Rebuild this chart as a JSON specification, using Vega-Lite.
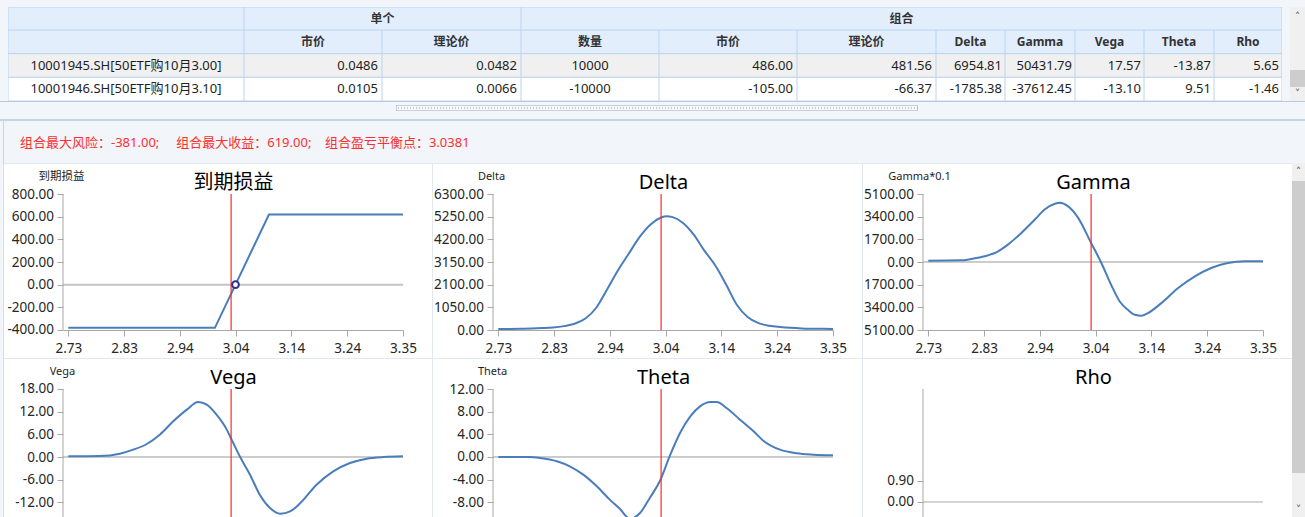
{
"$schema": "https://vega.github.io/schema/vega-lite/v6.json",
"padding": 0,
"background": "#ffffff",
"spacing": 0,
"config": {
 "view": {"stroke": null},
 "concat": {"spacing": 0},
 "font": "Noto Sans, Noto Sans CJK SC",
 "locale": {"number": {"decimal": ".", "thousands": ",", "grouping": [3], "currency": ["$", ""], "minus": "-"}},
 "axis": {"labelFlush": false, "labelOverlap": false, "grid": false, "domainColor": "#a8a8a8", "tickColor": "#a8a8a8", "tickSize": 6, "labelFontSize": 13.5, "labelColor": "#262626", "labelPadding": 3.5, "labelFont": "Noto Sans, Noto Sans CJK SC", "titleFont": "Noto Sans, Noto Sans CJK SC", "titleFontWeight": "normal"}
},
"datasets": {
 "table": [
  {"col":"c0","row":"h","text":""},{"col":"c0","row":"r1","text":"10001945.SH[50ETF购10月3.00]"},{"col":"c0","row":"r2","text":"10001946.SH[50ETF购10月3.10]"},
  {"col":"c1","row":"h","text":"市价"},{"col":"c1","row":"r1","text":"0.0486"},{"col":"c1","row":"r2","text":"0.0105"},
  {"col":"c2","row":"h","text":"理论价"},{"col":"c2","row":"r1","text":"0.0482"},{"col":"c2","row":"r2","text":"0.0066"},
  {"col":"c3","row":"h","text":"数量"},{"col":"c3","row":"r1","text":"10000"},{"col":"c3","row":"r2","text":"-10000"},
  {"col":"c4","row":"h","text":"市价"},{"col":"c4","row":"r1","text":"486.00"},{"col":"c4","row":"r2","text":"-105.00"},
  {"col":"c5","row":"h","text":"理论价"},{"col":"c5","row":"r1","text":"481.56"},{"col":"c5","row":"r2","text":"-66.37"},
  {"col":"c6","row":"h","text":"Delta"},{"col":"c6","row":"r1","text":"6954.81"},{"col":"c6","row":"r2","text":"-1785.38"},
  {"col":"c7","row":"h","text":"Gamma"},{"col":"c7","row":"r1","text":"50431.79"},{"col":"c7","row":"r2","text":"-37612.45"},
  {"col":"c8","row":"h","text":"Vega"},{"col":"c8","row":"r1","text":"17.57"},{"col":"c8","row":"r2","text":"-13.10"},
  {"col":"c9","row":"h","text":"Theta"},{"col":"c9","row":"r1","text":"-13.87"},{"col":"c9","row":"r2","text":"9.51"},
  {"col":"c10","row":"h","text":"Rho"},{"col":"c10","row":"r1","text":"5.65"},{"col":"c10","row":"r2","text":"-1.46"}
 ],
 "groups": [{"id":"single","label":"单个"},{"id":"combo","label":"组合"}],
 "info": [{"t":"组合最大风险：-381.00;\u00a0\u00a0\u00a0\u00a0\u00a0组合最大收益：619.00;\u00a0\u00a0\u00a0\u00a0组合盈亏平衡点：3.0381"}],
 "arrows": [{"id":"up","t":"˄"},{"id":"down","t":"˅"}],
 "spot": [{"spot": 3.03}],
 "breakeven": [{"s": 3.0381, "v": 0}],
 "curves": [
  {"g":"payoff","s":2.7288,"v":-381},{"g":"payoff","s":3.0,"v":-381},{"g":"payoff","s":3.1,"v":619},{"g":"payoff","s":3.348,"v":619},
  {"g":"delta","s":2.7288,"v":47},{"g":"delta","s":2.75,"v":52},{"g":"delta","s":2.77,"v":60},{"g":"delta","s":2.79,"v":70},{"g":"delta","s":2.81,"v":90},{"g":"delta","s":2.83,"v":120},{"g":"delta","s":2.85,"v":180},{"g":"delta","s":2.87,"v":290},{"g":"delta","s":2.89,"v":530},{"g":"delta","s":2.91,"v":1030},{"g":"delta","s":2.93,"v":1880},{"g":"delta","s":2.95,"v":2760},{"g":"delta","s":2.97,"v":3530},{"g":"delta","s":2.99,"v":4300},{"g":"delta","s":3.01,"v":4880},{"g":"delta","s":3.03,"v":5210},{"g":"delta","s":3.04,"v":5270},{"g":"delta","s":3.05,"v":5240},{"g":"delta","s":3.07,"v":4970},{"g":"delta","s":3.09,"v":4430},{"g":"delta","s":3.11,"v":3680},{"g":"delta","s":3.13,"v":3000},{"g":"delta","s":3.15,"v":2120},{"g":"delta","s":3.17,"v":1170},{"g":"delta","s":3.19,"v":600},{"g":"delta","s":3.21,"v":320},{"g":"delta","s":3.23,"v":200},{"g":"delta","s":3.25,"v":140},{"g":"delta","s":3.27,"v":100},{"g":"delta","s":3.29,"v":75},{"g":"delta","s":3.31,"v":62},{"g":"delta","s":3.33,"v":54},{"g":"delta","s":3.348,"v":48},
  {"g":"gamma","s":2.7288,"v":100},{"g":"gamma","s":2.79,"v":125},{"g":"gamma","s":2.808,"v":225},{"g":"gamma","s":2.833,"v":426},{"g":"gamma","s":2.858,"v":802},{"g":"gamma","s":2.876,"v":1304},{"g":"gamma","s":2.901,"v":2181},{"g":"gamma","s":2.926,"v":3184},{"g":"gamma","s":2.944,"v":3936},{"g":"gamma","s":2.963,"v":4363},{"g":"gamma","s":2.972,"v":4438},{"g":"gamma","s":2.987,"v":4187},{"g":"gamma","s":3.006,"v":3310},{"g":"gamma","s":3.03,"v":1429},{"g":"gamma","s":3.049,"v":-75},{"g":"gamma","s":3.067,"v":-1705},{"g":"gamma","s":3.083,"v":-2959},{"g":"gamma","s":3.098,"v":-3585},{"g":"gamma","s":3.111,"v":-3962},{"g":"gamma","s":3.123,"v":-4037},{"g":"gamma","s":3.135,"v":-3836},{"g":"gamma","s":3.16,"v":-3084},{"g":"gamma","s":3.191,"v":-1956},{"g":"gamma","s":3.222,"v":-1078},{"g":"gamma","s":3.252,"v":-451},{"g":"gamma","s":3.283,"v":-75},{"g":"gamma","s":3.314,"v":50},{"g":"gamma","s":3.348,"v":50},
  {"g":"vega","s":2.7288,"v":0.18},{"g":"vega","s":2.787,"v":0.26},{"g":"vega","s":2.824,"v":0.88},{"g":"vega","s":2.849,"v":1.94},{"g":"vega","s":2.874,"v":3.44},{"g":"vega","s":2.898,"v":5.91},{"g":"vega","s":2.923,"v":9.44},{"g":"vega","s":2.948,"v":12.53},{"g":"vega","s":2.969,"v":14.56},{"g":"vega","s":2.985,"v":13.85},{"g":"vega","s":3.003,"v":11.2},{"g":"vega","s":3.022,"v":7.24},{"g":"vega","s":3.031,"v":4.59},{"g":"vega","s":3.046,"v":0.18},{"g":"vega","s":3.065,"v":-4.68},{"g":"vega","s":3.083,"v":-9.97},{"g":"vega","s":3.102,"v":-13.5},{"g":"vega","s":3.121,"v":-15.0},{"g":"vega","s":3.139,"v":-14.4},{"g":"vega","s":3.158,"v":-12.2},{"g":"vega","s":3.188,"v":-7.32},{"g":"vega","s":3.219,"v":-3.79},{"g":"vega","s":3.25,"v":-1.59},{"g":"vega","s":3.281,"v":-0.44},{"g":"vega","s":3.312,"v":0},{"g":"vega","s":3.348,"v":0.18},
  {"g":"theta","s":2.7288,"v":0},{"g":"theta","s":2.787,"v":0},{"g":"theta","s":2.806,"v":-0.18},{"g":"theta","s":2.837,"v":-0.76},{"g":"theta","s":2.861,"v":-1.65},{"g":"theta","s":2.886,"v":-3.12},{"g":"theta","s":2.911,"v":-5.18},{"g":"theta","s":2.935,"v":-7.53},{"g":"theta","s":2.954,"v":-9.2},{"g":"theta","s":2.972,"v":-10.9},{"g":"theta","s":2.991,"v":-9.9},{"g":"theta","s":3.009,"v":-7.24},{"g":"theta","s":3.028,"v":-4.2},{"g":"theta","s":3.047,"v":0.41},{"g":"theta","s":3.065,"v":4.24},{"g":"theta","s":3.084,"v":7.18},{"g":"theta","s":3.102,"v":8.94},{"g":"theta","s":3.121,"v":9.71},{"g":"theta","s":3.133,"v":9.71},{"g":"theta","s":3.151,"v":8.65},{"g":"theta","s":3.176,"v":6.59},{"g":"theta","s":3.201,"v":4.53},{"g":"theta","s":3.219,"v":2.88},{"g":"theta","s":3.25,"v":1.29},{"g":"theta","s":3.281,"v":0.65},{"g":"theta","s":3.312,"v":0.41},{"g":"theta","s":3.348,"v":0.29}
 ]
},
"vconcat": [
 {"data":{"values":[{}]},"mark":{"type":"rect","fill":"#f2f5f9"},"width":1305,"height":7},
 {"hconcat":[
  {"data":{"values":[{}]},"mark":{"type":"rect","fill":"#f2f5f9"},"width":8,"height":94},
  {"vconcat":[
   {"bounds":"flush","hconcat":[
    {"data":{"values":[{}]},"mark":{"type":"rect","fill":"#e3eefd","stroke":"#bcd3ef","strokeWidth":1,"clip":true},"width":236,"height":23},
    {"width":277,"height":23,"data":{"name":"groups"},"transform":[{"filter":"datum.id === 'single'"}],"layer":[{"mark":{"type":"rect","fill":"#e3eefd","stroke":"#bcd3ef","strokeWidth":1,"clip":true}},{"mark":{"type":"text","fontSize":12,"fontWeight":"bold","color":"#333333"},"encoding":{"text":{"field":"label","type":"nominal"}}}]},
    {"width":761,"height":23,"data":{"name":"groups"},"transform":[{"filter":"datum.id === 'combo'"}],"layer":[{"mark":{"type":"rect","fill":"#e3eefd","stroke":"#bcd3ef","strokeWidth":1,"clip":true}},{"mark":{"type":"text","fontSize":12,"fontWeight":"bold","color":"#333333"},"encoding":{"text":{"field":"label","type":"nominal"}}}]}
   ]},
   {"bounds":"flush","hconcat":[
    {"width":236,"height":71,"data":{"name":"table"},"transform":[{"filter":"datum.col === 'c0'"}],"encoding":{"y":{"field":"row","type":"nominal","scale":{"type":"band","domain":["h","r1","r2"],"paddingInner":0,"paddingOuter":0},"axis":null}},"layer":[
     {"mark":{"type":"rect","stroke":"#bcd3ef","strokeWidth":1,"clip":true},"encoding":{"fill":{"field":"row","type":"nominal","scale":{"domain":["h","r1","r2"],"range":["#e3eefd","#f0f0f0","#ffffff"]},"legend":null}}},
     {"transform":[{"filter":"datum.row !== 'h'"}],"mark":{"type":"text","fontSize":13,"color":"#1e1e1e"},"encoding":{"text":{"field":"text","type":"nominal"}}}]},
    {"width":138,"height":71,"data":{"name":"table"},"transform":[{"filter":"datum.col === 'c1'"}],"encoding":{"y":{"field":"row","type":"nominal","scale":{"type":"band","domain":["h","r1","r2"],"paddingInner":0,"paddingOuter":0},"axis":null}},"layer":[
     {"mark":{"type":"rect","stroke":"#bcd3ef","strokeWidth":1,"clip":true},"encoding":{"fill":{"field":"row","type":"nominal","scale":{"domain":["h","r1","r2"],"range":["#e3eefd","#f0f0f0","#ffffff"]},"legend":null}}},
     {"transform":[{"filter":"datum.row === 'h'"}],"mark":{"type":"text","fontSize":12,"fontWeight":"bold","color":"#333333"},"encoding":{"text":{"field":"text","type":"nominal"}}},
     {"transform":[{"filter":"datum.row !== 'h'"}],"mark":{"type":"text","fontSize":13,"color":"#1e1e1e","align":"right","dx":-4},"encoding":{"text":{"field":"text","type":"nominal"},"x":{"value":"width"}}}]},
    {"width":139,"height":71,"data":{"name":"table"},"transform":[{"filter":"datum.col === 'c2'"}],"encoding":{"y":{"field":"row","type":"nominal","scale":{"type":"band","domain":["h","r1","r2"],"paddingInner":0,"paddingOuter":0},"axis":null}},"layer":[
     {"mark":{"type":"rect","stroke":"#bcd3ef","strokeWidth":1,"clip":true},"encoding":{"fill":{"field":"row","type":"nominal","scale":{"domain":["h","r1","r2"],"range":["#e3eefd","#f0f0f0","#ffffff"]},"legend":null}}},
     {"transform":[{"filter":"datum.row === 'h'"}],"mark":{"type":"text","fontSize":12,"fontWeight":"bold","color":"#333333"},"encoding":{"text":{"field":"text","type":"nominal"}}},
     {"transform":[{"filter":"datum.row !== 'h'"}],"mark":{"type":"text","fontSize":13,"color":"#1e1e1e","align":"right","dx":-4},"encoding":{"text":{"field":"text","type":"nominal"},"x":{"value":"width"}}}]},
    {"width":138,"height":71,"data":{"name":"table"},"transform":[{"filter":"datum.col === 'c3'"}],"encoding":{"y":{"field":"row","type":"nominal","scale":{"type":"band","domain":["h","r1","r2"],"paddingInner":0,"paddingOuter":0},"axis":null}},"layer":[
     {"mark":{"type":"rect","stroke":"#bcd3ef","strokeWidth":1,"clip":true},"encoding":{"fill":{"field":"row","type":"nominal","scale":{"domain":["h","r1","r2"],"range":["#e3eefd","#f0f0f0","#ffffff"]},"legend":null}}},
     {"transform":[{"filter":"datum.row === 'h'"}],"mark":{"type":"text","fontSize":12,"fontWeight":"bold","color":"#333333"},"encoding":{"text":{"field":"text","type":"nominal"}}},
     {"transform":[{"filter":"datum.row !== 'h'"}],"mark":{"type":"text","fontSize":13,"color":"#1e1e1e"},"encoding":{"text":{"field":"text","type":"nominal"}}}]},
    {"width":138,"height":71,"data":{"name":"table"},"transform":[{"filter":"datum.col === 'c4'"}],"encoding":{"y":{"field":"row","type":"nominal","scale":{"type":"band","domain":["h","r1","r2"],"paddingInner":0,"paddingOuter":0},"axis":null}},"layer":[
     {"mark":{"type":"rect","stroke":"#bcd3ef","strokeWidth":1,"clip":true},"encoding":{"fill":{"field":"row","type":"nominal","scale":{"domain":["h","r1","r2"],"range":["#e3eefd","#f0f0f0","#ffffff"]},"legend":null}}},
     {"transform":[{"filter":"datum.row === 'h'"}],"mark":{"type":"text","fontSize":12,"fontWeight":"bold","color":"#333333"},"encoding":{"text":{"field":"text","type":"nominal"}}},
     {"transform":[{"filter":"datum.row !== 'h'"}],"mark":{"type":"text","fontSize":13,"color":"#1e1e1e","align":"right","dx":-4},"encoding":{"text":{"field":"text","type":"nominal"},"x":{"value":"width"}}}]},
    {"width":139,"height":71,"data":{"name":"table"},"transform":[{"filter":"datum.col === 'c5'"}],"encoding":{"y":{"field":"row","type":"nominal","scale":{"type":"band","domain":["h","r1","r2"],"paddingInner":0,"paddingOuter":0},"axis":null}},"layer":[
     {"mark":{"type":"rect","stroke":"#bcd3ef","strokeWidth":1,"clip":true},"encoding":{"fill":{"field":"row","type":"nominal","scale":{"domain":["h","r1","r2"],"range":["#e3eefd","#f0f0f0","#ffffff"]},"legend":null}}},
     {"transform":[{"filter":"datum.row === 'h'"}],"mark":{"type":"text","fontSize":12,"fontWeight":"bold","color":"#333333"},"encoding":{"text":{"field":"text","type":"nominal"}}},
     {"transform":[{"filter":"datum.row !== 'h'"}],"mark":{"type":"text","fontSize":13,"color":"#1e1e1e","align":"right","dx":-4},"encoding":{"text":{"field":"text","type":"nominal"},"x":{"value":"width"}}}]},
    {"width":69,"height":71,"data":{"name":"table"},"transform":[{"filter":"datum.col === 'c6'"}],"encoding":{"y":{"field":"row","type":"nominal","scale":{"type":"band","domain":["h","r1","r2"],"paddingInner":0,"paddingOuter":0},"axis":null}},"layer":[
     {"mark":{"type":"rect","stroke":"#bcd3ef","strokeWidth":1,"clip":true},"encoding":{"fill":{"field":"row","type":"nominal","scale":{"domain":["h","r1","r2"],"range":["#e3eefd","#f0f0f0","#ffffff"]},"legend":null}}},
     {"transform":[{"filter":"datum.row === 'h'"}],"mark":{"type":"text","fontSize":12,"fontWeight":"bold","color":"#333333"},"encoding":{"text":{"field":"text","type":"nominal"}}},
     {"transform":[{"filter":"datum.row !== 'h'"}],"mark":{"type":"text","fontSize":13,"color":"#1e1e1e","align":"right","dx":-3},"encoding":{"text":{"field":"text","type":"nominal"},"x":{"value":"width"}}}]},
    {"width":70,"height":71,"data":{"name":"table"},"transform":[{"filter":"datum.col === 'c7'"}],"encoding":{"y":{"field":"row","type":"nominal","scale":{"type":"band","domain":["h","r1","r2"],"paddingInner":0,"paddingOuter":0},"axis":null}},"layer":[
     {"mark":{"type":"rect","stroke":"#bcd3ef","strokeWidth":1,"clip":true},"encoding":{"fill":{"field":"row","type":"nominal","scale":{"domain":["h","r1","r2"],"range":["#e3eefd","#f0f0f0","#ffffff"]},"legend":null}}},
     {"transform":[{"filter":"datum.row === 'h'"}],"mark":{"type":"text","fontSize":12,"fontWeight":"bold","color":"#333333"},"encoding":{"text":{"field":"text","type":"nominal"}}},
     {"transform":[{"filter":"datum.row !== 'h'"}],"mark":{"type":"text","fontSize":13,"color":"#1e1e1e","align":"right","dx":-3},"encoding":{"text":{"field":"text","type":"nominal"},"x":{"value":"width"}}}]},
    {"width":69,"height":71,"data":{"name":"table"},"transform":[{"filter":"datum.col === 'c8'"}],"encoding":{"y":{"field":"row","type":"nominal","scale":{"type":"band","domain":["h","r1","r2"],"paddingInner":0,"paddingOuter":0},"axis":null}},"layer":[
     {"mark":{"type":"rect","stroke":"#bcd3ef","strokeWidth":1,"clip":true},"encoding":{"fill":{"field":"row","type":"nominal","scale":{"domain":["h","r1","r2"],"range":["#e3eefd","#f0f0f0","#ffffff"]},"legend":null}}},
     {"transform":[{"filter":"datum.row === 'h'"}],"mark":{"type":"text","fontSize":12,"fontWeight":"bold","color":"#333333"},"encoding":{"text":{"field":"text","type":"nominal"}}},
     {"transform":[{"filter":"datum.row !== 'h'"}],"mark":{"type":"text","fontSize":13,"color":"#1e1e1e","align":"right","dx":-3},"encoding":{"text":{"field":"text","type":"nominal"},"x":{"value":"width"}}}]},
    {"width":70,"height":71,"data":{"name":"table"},"transform":[{"filter":"datum.col === 'c9'"}],"encoding":{"y":{"field":"row","type":"nominal","scale":{"type":"band","domain":["h","r1","r2"],"paddingInner":0,"paddingOuter":0},"axis":null}},"layer":[
     {"mark":{"type":"rect","stroke":"#bcd3ef","strokeWidth":1,"clip":true},"encoding":{"fill":{"field":"row","type":"nominal","scale":{"domain":["h","r1","r2"],"range":["#e3eefd","#f0f0f0","#ffffff"]},"legend":null}}},
     {"transform":[{"filter":"datum.row === 'h'"}],"mark":{"type":"text","fontSize":12,"fontWeight":"bold","color":"#333333"},"encoding":{"text":{"field":"text","type":"nominal"}}},
     {"transform":[{"filter":"datum.row !== 'h'"}],"mark":{"type":"text","fontSize":13,"color":"#1e1e1e","align":"right","dx":-3},"encoding":{"text":{"field":"text","type":"nominal"},"x":{"value":"width"}}}]},
    {"width":68,"height":71,"data":{"name":"table"},"transform":[{"filter":"datum.col === 'c10'"}],"encoding":{"y":{"field":"row","type":"nominal","scale":{"type":"band","domain":["h","r1","r2"],"paddingInner":0,"paddingOuter":0},"axis":null}},"layer":[
     {"mark":{"type":"rect","stroke":"#bcd3ef","strokeWidth":1,"clip":true},"encoding":{"fill":{"field":"row","type":"nominal","scale":{"domain":["h","r1","r2"],"range":["#e3eefd","#f0f0f0","#ffffff"]},"legend":null}}},
     {"transform":[{"filter":"datum.row === 'h'"}],"mark":{"type":"text","fontSize":12,"fontWeight":"bold","color":"#333333"},"encoding":{"text":{"field":"text","type":"nominal"}}},
     {"transform":[{"filter":"datum.row !== 'h'"}],"mark":{"type":"text","fontSize":13,"color":"#1e1e1e","align":"right","dx":-3},"encoding":{"text":{"field":"text","type":"nominal"},"x":{"value":"width"}}}]}
   ]}
  ]},
  {"data":{"values":[{}]},"mark":{"type":"rect","fill":"#f2f5f9"},"width":8,"height":94},
  {"bounds":"flush","vconcat":[
   {"width":15,"height":20,"data":{"name":"arrows"},"transform":[{"filter":"datum.id === 'up'"}],"layer":[{"mark":{"type":"rect","fill":"#f0f0f0"}},{"mark":{"type":"text","font":"DejaVu Sans","fontSize":11,"color":"#606060"},"encoding":{"text":{"field":"t","type":"nominal"}}}]},
   {"data":{"values":[{}]},"mark":{"type":"rect","fill":"#f0f0f0"},"width":15,"height":43},
   {"data":{"values":[{}]},"mark":{"type":"rect","fill":"#cdcdcd"},"width":15,"height":17},
   {"width":15,"height":14,"data":{"name":"arrows"},"transform":[{"filter":"datum.id === 'down'"}],"layer":[{"mark":{"type":"rect","fill":"#f0f0f0"}},{"mark":{"type":"text","font":"DejaVu Sans","fontSize":11,"color":"#606060"},"encoding":{"text":{"field":"t","type":"nominal"}}}]}
  ]}
 ]},
 {"vconcat":[
  {"data":{"values":[{}]},"mark":{"type":"rect","fill":"#b9c9de"},"width":1305,"height":1},
  {"data":{"values":[{}]},"mark":{"type":"rect","fill":"#f2f5f9"},"width":1305,"height":3},
  {"bounds":"flush","hconcat":[
   {"data":{"values":[{}]},"mark":{"type":"rect","fill":"#f2f5f9"},"width":396,"height":6},
   {"width":522,"height":6,"data":{"values":[{}]},"layer":[
    {"mark":{"type":"rect","fill":"#f8f9fb","stroke":"#9ea7b3","strokeWidth":1,"clip":true}},
    {"mark":{"type":"rule","color":"#6aa5e0","strokeDash":[1,2],"clip":true},"encoding":{"y":{"datum":0.5,"type":"quantitative","scale":{"domain":[0,1]},"axis":null}}}
   ]},
   {"data":{"values":[{}]},"mark":{"type":"rect","fill":"#f2f5f9"},"width":387,"height":6}
  ]},
  {"data":{"values":[{}]},"mark":{"type":"rect","fill":"#f2f5f9"},"width":1305,"height":8}
 ]},
 {"data":{"values":[{}]},"mark":{"type":"rect","fill":"#c9d4e2"},"width":1305,"height":2},
 {"hconcat":[
  {"data":{"values":[{}]},"mark":{"type":"rect","fill":"#f2f5f9"},"width":3,"height":42},
  {"data":{"values":[{}]},"mark":{"type":"rect","fill":"#c9d4e2"},"width":1,"height":42},
  {"data":{"values":[{}]},"mark":{"type":"rect","fill":"#f2f5f9"},"width":16,"height":42},
  {"width":1285,"height":42,"data":{"name":"info"},"layer":[
   {"mark":{"type":"rect","fill":"#f2f5f9"}},
   {"mark":{"type":"text","align":"left","color":"#ff2d2d","fontSize":13,"dy":1},"encoding":{"text":{"field":"t","type":"nominal"},"x":{"datum":0,"type":"quantitative","scale":{"domain":[0,1]},"axis":null}}}
  ]}
 ]},
 {"hconcat":[
  {"hconcat":[
   {"data":{"values":[{}]},"mark":{"type":"rect","fill":"#f2f5f9"},"width":3,"height":354},
   {"data":{"values":[{}]},"mark":{"type":"rect","fill":"#d5dde8"},"width":1,"height":354}
  ]},
  {"vconcat":[
   {"data":{"values":[{}]},"mark":{"type":"rect","fill":"#e3e8ef"},"width":1288,"height":1},
   {"bounds":"flush","hconcat":[
    {"data":{"values":[{}]},"mark":{"type":"rect","fill":"transparent"},"width":59,"height":194},
    {"width":340,"height":194,"resolve":{"axis":{"x":"independent","y":"independent"}},"layer":[
     {"data":{"values":[{}]},"mark":{"type":"rule","color":"#c4c4c4","strokeWidth":2},"encoding":{"y":{"datum":0,"type":"quantitative","scale":{"domain":[-647.06,1064.71],"nice":false},"axis":null}}},
     {"data":{"values":[{}]},"mark":{"type":"rule","color":"#a8a8a8","strokeWidth":1},"encoding":{"x":{"datum":2.719,"type":"quantitative","scale":{"domain":[2.719,3.348],"nice":false,"zero":false},"axis":null},"y":{"datum":800,"type":"quantitative","scale":{"domain":[-647.06,1064.71],"nice":false},"axis":null},"y2":{"datum":-400}}},
     {"data":{"name":"curves"},"transform":[{"filter":"datum.g === 'payoff'"}],"mark":{"type":"line","color":"#4a7dbb","strokeWidth":2,"clip":true},"encoding":{
      "x":{"field":"s","type":"quantitative","scale":{"domain":[2.719,3.348],"nice":false,"zero":false},"axis":{"values":[2.7288,2.832,2.9352,3.0384,3.1416,3.2448,3.348],"format":".2f","title":null,"labelPadding":5,"offset":-28}},
      "y":{"field":"v","type":"quantitative","scale":{"domain":[-647.06,1064.71],"nice":false},"axis":{"values":[-400,-200,0,200,400,600,800],"format":".2f","domain":false,"title":"到期损益","titleAngle":0,"titleX":-2,"titleY":12,"titleAlign":"center","titleBaseline":"middle","titleFontSize":11.5,"titleColor":"#1e1e1e"}}}},
     {"data":{"name":"spot"},"mark":{"type":"rule","color":"#ff2a2a","strokeWidth":1.2},"encoding":{"x":{"field":"spot","type":"quantitative","scale":{"domain":[2.719,3.348],"nice":false,"zero":false},"axis":{"orient":"top","offset":-30,"title":"到期损益","domain":false,"ticks":false,"labels":false,"titleFontSize":20,"titleColor":"#000000","titlePadding":2}},"y":{"datum":800,"type":"quantitative","scale":{"domain":[-647.06,1064.71],"nice":false},"axis":null},"y2":{"datum":-400}}},
     {"data":{"name":"breakeven"},"mark":{"type":"point","shape":"circle","filled":true,"fill":"#ffffff","stroke":"#2e3192","strokeWidth":2,"size":45,"opacity":1},"encoding":{"x":{"field":"s","type":"quantitative","scale":{"domain":[2.719,3.348],"nice":false,"zero":false},"axis":null},"y":{"field":"v","type":"quantitative","scale":{"domain":[-647.06,1064.71],"nice":false},"axis":null}}}
    ]},
    {"data":{"values":[{}]},"mark":{"type":"rect","fill":"transparent"},"width":29,"height":194},
    {"data":{"values":[{}]},"mark":{"type":"rect","fill":"#e3e8ef"},"width":1,"height":194},
    {"data":{"values":[{}]},"mark":{"type":"rect","fill":"transparent"},"width":60,"height":194},
    {"width":340,"height":194,"resolve":{"axis":{"x":"independent","y":"independent"}},"layer":[
     {"data":{"values":[{}]},"mark":{"type":"rule","color":"#a8a8a8","strokeWidth":1},"encoding":{"x":{"datum":2.719,"type":"quantitative","scale":{"domain":[2.719,3.348],"nice":false,"zero":false},"axis":null},"y":{"datum":6300,"type":"quantitative","scale":{"domain":[-1297.06,7689.71],"nice":false},"axis":null},"y2":{"datum":0}}},
     {"data":{"name":"curves"},"transform":[{"filter":"datum.g === 'delta'"}],"mark":{"type":"line","color":"#4a7dbb","strokeWidth":2,"clip":true,"interpolate":"monotone"},"encoding":{
      "x":{"field":"s","type":"quantitative","scale":{"domain":[2.719,3.348],"nice":false,"zero":false},"axis":{"values":[2.7288,2.832,2.9352,3.0384,3.1416,3.2448,3.348],"format":".2f","title":null,"labelPadding":5,"offset":-28}},
      "y":{"field":"v","type":"quantitative","scale":{"domain":[-1297.06,7689.71],"nice":false},"axis":{"values":[0,1050,2100,3150,4200,5250,6300],"format":".2f","domain":false,"title":"Delta","titleAngle":0,"titleX":-2,"titleY":12,"titleAlign":"center","titleBaseline":"middle","titleFontSize":11,"titleColor":"#1e1e1e"}}}},
     {"data":{"name":"spot"},"mark":{"type":"rule","color":"#ff2a2a","strokeWidth":1.2},"encoding":{"x":{"field":"spot","type":"quantitative","scale":{"domain":[2.719,3.348],"nice":false,"zero":false},"axis":{"orient":"top","offset":-30,"title":"Delta","domain":false,"ticks":false,"labels":false,"titleFontSize":20,"titleColor":"#000000","titlePadding":2}},"y":{"datum":6300,"type":"quantitative","scale":{"domain":[-1297.06,7689.71],"nice":false},"axis":null},"y2":{"datum":0}}}
    ]},
    {"data":{"values":[{}]},"mark":{"type":"rect","fill":"transparent"},"width":29,"height":194},
    {"data":{"values":[{}]},"mark":{"type":"rect","fill":"#e3e8ef"},"width":1,"height":194},
    {"data":{"values":[{}]},"mark":{"type":"rect","fill":"transparent"},"width":60,"height":194},
    {"width":340,"height":194,"resolve":{"axis":{"x":"independent","y":"independent"}},"layer":[
     {"data":{"values":[{}]},"mark":{"type":"rule","color":"#999999","strokeWidth":1},"encoding":{"x":{"datum":2.719,"type":"quantitative","scale":{"domain":[2.719,3.348],"nice":false,"zero":false},"axis":null},"x2":{"datum":3.348},"y":{"datum":0,"type":"quantitative","scale":{"domain":[-7200,7350],"nice":false},"axis":null}}},
     {"data":{"values":[{}]},"mark":{"type":"rule","color":"#a8a8a8","strokeWidth":1},"encoding":{"x":{"datum":2.719,"type":"quantitative","scale":{"domain":[2.719,3.348],"nice":false,"zero":false},"axis":null},"y":{"datum":5100,"type":"quantitative","scale":{"domain":[-7200,7350],"nice":false},"axis":null},"y2":{"datum":-5100}}},
     {"data":{"name":"curves"},"transform":[{"filter":"datum.g === 'gamma'"}],"mark":{"type":"line","color":"#4a7dbb","strokeWidth":2,"clip":true,"interpolate":"monotone"},"encoding":{
      "x":{"field":"s","type":"quantitative","scale":{"domain":[2.719,3.348],"nice":false,"zero":false},"axis":{"values":[2.7288,2.832,2.9352,3.0384,3.1416,3.2448,3.348],"format":".2f","title":null,"labelPadding":5,"offset":-28}},
      "y":{"field":"v","type":"quantitative","scale":{"domain":[-7200,7350],"nice":false},"axis":{"values":[-5100,-3400,-1700,0,1700,3400,5100],"labelExpr":"format(abs(datum.value), '.2f')","domain":false,"title":"Gamma*0.1","titleAngle":0,"titleX":-4,"titleY":12,"titleAlign":"center","titleBaseline":"middle","titleFontSize":11,"titleColor":"#1e1e1e"}}}},
     {"data":{"name":"spot"},"mark":{"type":"rule","color":"#ff2a2a","strokeWidth":1.2},"encoding":{"x":{"field":"spot","type":"quantitative","scale":{"domain":[2.719,3.348],"nice":false,"zero":false},"axis":{"orient":"top","offset":-30,"title":"Gamma","domain":false,"ticks":false,"labels":false,"titleFontSize":20,"titleColor":"#000000","titlePadding":2}},"y":{"datum":5100,"type":"quantitative","scale":{"domain":[-7200,7350],"nice":false},"axis":null},"y2":{"datum":-5100}}}
    ]},
    {"data":{"values":[{}]},"mark":{"type":"rect","fill":"transparent"},"width":29,"height":194}
   ]},
   {"data":{"values":[{}]},"mark":{"type":"rect","fill":"#e3e8ef"},"width":1288,"height":1},
   {"bounds":"flush","hconcat":[
    {"data":{"values":[{}]},"mark":{"type":"rect","fill":"transparent"},"width":59,"height":158},
    {"width":340,"height":158,"resolve":{"axis":{"x":"independent","y":"independent"}},"layer":[
     {"data":{"values":[{}]},"mark":{"type":"rule","color":"#999999","strokeWidth":1},"encoding":{"x":{"datum":2.719,"type":"quantitative","scale":{"domain":[2.719,3.348],"nice":false,"zero":false},"axis":null},"x2":{"datum":3.348},"y":{"datum":0,"type":"quantitative","scale":{"domain":[-15.88,25.94],"nice":false},"axis":null}}},
     {"data":{"values":[{}]},"mark":{"type":"rule","color":"#a8a8a8","strokeWidth":1},"encoding":{"x":{"datum":2.719,"type":"quantitative","scale":{"domain":[2.719,3.348],"nice":false,"zero":false},"axis":null},"y":{"datum":18,"type":"quantitative","scale":{"domain":[-15.88,25.94],"nice":false},"axis":null},"y2":{"datum":-15.88}}},
     {"data":{"name":"curves"},"transform":[{"filter":"datum.g === 'vega'"}],"mark":{"type":"line","color":"#4a7dbb","strokeWidth":2,"clip":true,"interpolate":"monotone"},"encoding":{
      "x":{"field":"s","type":"quantitative","scale":{"domain":[2.719,3.348],"nice":false,"zero":false},"axis":null},
      "y":{"field":"v","type":"quantitative","scale":{"domain":[-15.88,25.94],"nice":false},"axis":{"values":[-12,-6,0,6,12,18],"format":".2f","domain":false,"title":"Vega","titleAngle":0,"titleX":-1,"titleY":12,"titleAlign":"center","titleBaseline":"middle","titleFontSize":11,"titleColor":"#1e1e1e"}}}},
     {"data":{"name":"spot"},"mark":{"type":"rule","color":"#ff2a2a","strokeWidth":1.2},"encoding":{"x":{"field":"spot","type":"quantitative","scale":{"domain":[2.719,3.348],"nice":false,"zero":false},"axis":{"orient":"top","offset":-30,"title":"Vega","domain":false,"ticks":false,"labels":false,"titleFontSize":20,"titleColor":"#000000","titlePadding":2}},"y":{"datum":18,"type":"quantitative","scale":{"domain":[-15.88,25.94],"nice":false},"axis":null},"y2":{"datum":-15.88}}}
    ]},
    {"data":{"values":[{}]},"mark":{"type":"rect","fill":"transparent"},"width":29,"height":158},
    {"data":{"values":[{}]},"mark":{"type":"rect","fill":"#e3e8ef"},"width":1,"height":158},
    {"data":{"values":[{}]},"mark":{"type":"rect","fill":"transparent"},"width":60,"height":158},
    {"width":340,"height":158,"resolve":{"axis":{"x":"independent","y":"independent"}},"layer":[
     {"data":{"values":[{}]},"mark":{"type":"rule","color":"#999999","strokeWidth":1},"encoding":{"x":{"datum":2.719,"type":"quantitative","scale":{"domain":[2.719,3.348],"nice":false,"zero":false},"axis":null},"x2":{"datum":3.348},"y":{"datum":0,"type":"quantitative","scale":{"domain":[-10.6,17.3],"nice":false},"axis":null}}},
     {"data":{"values":[{}]},"mark":{"type":"rule","color":"#a8a8a8","strokeWidth":1},"encoding":{"x":{"datum":2.719,"type":"quantitative","scale":{"domain":[2.719,3.348],"nice":false,"zero":false},"axis":null},"y":{"datum":12,"type":"quantitative","scale":{"domain":[-10.6,17.3],"nice":false},"axis":null},"y2":{"datum":-10.6}}},
     {"data":{"name":"curves"},"transform":[{"filter":"datum.g === 'theta'"}],"mark":{"type":"line","color":"#4a7dbb","strokeWidth":2,"clip":true,"interpolate":"monotone"},"encoding":{
      "x":{"field":"s","type":"quantitative","scale":{"domain":[2.719,3.348],"nice":false,"zero":false},"axis":null},
      "y":{"field":"v","type":"quantitative","scale":{"domain":[-10.6,17.3],"nice":false},"axis":{"values":[-8,-4,0,4,8,12],"format":".2f","domain":false,"title":"Theta","titleAngle":0,"titleX":-1,"titleY":12,"titleAlign":"center","titleBaseline":"middle","titleFontSize":11,"titleColor":"#1e1e1e"}}}},
     {"data":{"name":"spot"},"mark":{"type":"rule","color":"#ff2a2a","strokeWidth":1.2},"encoding":{"x":{"field":"spot","type":"quantitative","scale":{"domain":[2.719,3.348],"nice":false,"zero":false},"axis":{"orient":"top","offset":-30,"title":"Theta","domain":false,"ticks":false,"labels":false,"titleFontSize":20,"titleColor":"#000000","titlePadding":2}},"y":{"datum":12,"type":"quantitative","scale":{"domain":[-10.6,17.3],"nice":false},"axis":null},"y2":{"datum":-10.6}}}
    ]},
    {"data":{"values":[{}]},"mark":{"type":"rect","fill":"transparent"},"width":29,"height":158},
    {"data":{"values":[{}]},"mark":{"type":"rect","fill":"#e3e8ef"},"width":1,"height":158},
    {"data":{"values":[{}]},"mark":{"type":"rect","fill":"transparent"},"width":60,"height":158},
    {"width":340,"height":158,"resolve":{"axis":{"x":"independent","y":"independent"}},"layer":[
     {"data":{"values":[{}]},"mark":{"type":"rule","color":"#a8a8a8","strokeWidth":1},"encoding":{"x":{"datum":2.719,"type":"quantitative","scale":{"domain":[2.719,3.348],"nice":false,"zero":false},"axis":null},"y":{"datum":4.774,"type":"quantitative","scale":{"domain":[-0.634,6.0415],"nice":false},"axis":null},"y2":{"datum":-0.634}}},
     {"data":{"values":[{}]},"mark":{"type":"rule","color":"#a8a8a8","strokeWidth":1},"encoding":{
      "x":{"datum":2.719,"type":"quantitative","scale":{"domain":[2.719,3.348],"nice":false,"zero":false},"axis":{"orient":"top","offset":-30,"title":"Rho","domain":false,"ticks":false,"labels":false,"titleFontSize":20,"titleColor":"#000000","titlePadding":2}},
      "x2":{"datum":3.348},
      "y":{"datum":0,"type":"quantitative","scale":{"domain":[-0.634,6.0415],"nice":false},"axis":{"values":[0,0.9],"format":".2f","domain":false,"title":null}}}}
    ]},
    {"data":{"values":[{}]},"mark":{"type":"rect","fill":"transparent"},"width":29,"height":158}
   ]}
  ]},
  {"bounds":"flush","vconcat":[
   {"width":13,"height":18,"data":{"name":"arrows"},"transform":[{"filter":"datum.id === 'up'"}],"layer":[{"mark":{"type":"rect","fill":"#f0f0f0"}},{"mark":{"type":"text","font":"DejaVu Sans","fontSize":11,"color":"#606060"},"encoding":{"text":{"field":"t","type":"nominal"}}}]},
   {"data":{"values":[{}]},"mark":{"type":"rect","fill":"#cdcdcd"},"width":13,"height":292},
   {"data":{"values":[{}]},"mark":{"type":"rect","fill":"#f0f0f0"},"width":13,"height":30},
   {"width":13,"height":14,"data":{"name":"arrows"},"transform":[{"filter":"datum.id === 'down'"}],"layer":[{"mark":{"type":"rect","fill":"#f0f0f0"}},{"mark":{"type":"text","font":"DejaVu Sans","fontSize":11,"color":"#606060"},"encoding":{"text":{"field":"t","type":"nominal"}}}]}
  ]}
 ]}
]
}
